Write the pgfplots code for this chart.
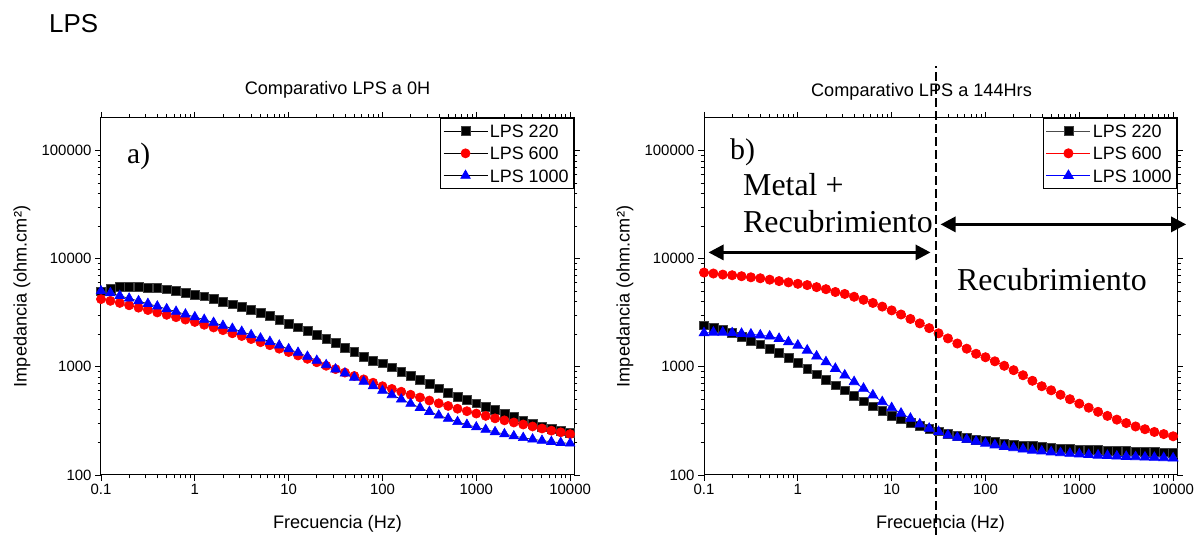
\documentclass[border=0pt]{standalone}
\usepackage{fontspec}
\setmainfont{Liberation Sans}
\newfontfamily\serifann{Liberation Serif}
\usepackage{pgfplots}
\pgfplotsset{compat=1.18}
\usepackage{pgfplotstable}
\usetikzlibrary{arrows.meta}

% |Z| vs frequency, 0 h
\pgfplotstableread{
f s220 s600 s1000
0.1 5010 4227 5023
0.1259 5285 4074 4820
0.1585 5470 3899 4550
0.1995 5470 3707 4295
0.2512 5470 3524 4064
0.3162 5395 3350 3837
0.3981 5360 3184 3631
0.5012 5210 3027 3428
0.631 5025 2877 3243
0.7943 4850 2735 3062
1 4680 2600 2891
1.259 4490 2449 2735
1.585 4235 2312 2564
1.995 4010 2183 2404
2.512 3785 2042 2259
3.162 3570 1928 2118
3.981 3360 1807 1972
5.012 3150 1690 1837
6.31 2950 1585 1710
7.943 2710 1472 1581
10 2510 1371 1462
12.59 2320 1274 1355
15.85 2150 1186 1245
19.95 1990 1102 1143
25.12 1825 1023 1042
31.62 1665 953 951
39.81 1495 885 871
50.12 1370 824 798
63.1 1250 766 731
79.43 1145 713 665
100 1080 662 603
125.9 990 625 550
158.5 900 589 501
199.5 825 552 457
251.2 765 521 419
316.2 697 488 385
398.1 634 460 356
501.2 581 435 333
631 532 410 310
794.3 495 389 292
1000 460 370 277
1259 428 352 263
1585 398 334 250
1995 370 320 239
2512 344 306 229
3162 320 293 221
3981 298 281 214
5012 281 269 208
6310 269 257 203
7943 257 248 199
10000 247 239 196
}\lpsA

% |Z| vs frequency, 144 h
\pgfplotstableread{
f s220 s600 s1000
0.1 2421 7447 2056
0.1259 2307 7295 2084
0.1585 2208 7129 2084
0.1995 2056 7031 2056
0.2512 1888 6887 2028
0.3162 1734 6730 2000
0.3981 1618 6592 1959
0.5012 1476 6397 1919
0.631 1346 6209 1824
0.7943 1219 6039 1698
1 1096 5861 1581
1.259 964 5702 1422
1.585 855 5458 1253
1.995 764 5224 1109
2.512 676 4920 964
3.162 608 4721 836
3.981 536 4446 726
5.012 481 4169 631
6.31 433 3899 547
7.943 394 3606 474
10 355 3327 417
12.59 328 3048 371
15.85 303 2773 333
19.95 283 2523 295
25.12 267 2280 269
31.62 254 2042 251
39.81 239 1832 233
50.12 229 1644 222
63.1 221 1472 213
79.43 213 1321 204
100 207 1227 196
125.9 202 1125 189
158.5 197 1023 183
199.5 192 931 178
251.2 188 836 173
316.2 185 743 169
398.1 182 662 166
501.2 179.5 607 163
631 177 552 160
794.3 175 502 158
1000 173 457 156
1259 172 419 154
1585 170 384 152
1995 169 352 151
2512 168 325 149
3162 167 302 148
3981 166 281 147
5012 164 265 146
6310 163 250 145
7943 162 239 144
10000 161 228 143
}\lpsB

\pgfplotsset{
  every axis/.append style={
    scale only axis, height=357bp, width=473bp,
    xmin=0.1, xmax=11000, ymin=100, ymax=2e5,
    xtick={0.1,1,10,100,1000,10000},
    xticklabels={0.1,1,10,100,1000,10000},
    minor xtick={0.2,0.3,0.4,0.5,0.6,0.7,0.8,0.9,2,3,4,5,6,7,8,9,20,30,40,50,60,70,80,90,200,300,400,500,600,700,800,900,2000,3000,4000,5000,6000,7000,8000,9000},
    ytick={100,1000,10000,100000},
    yticklabels={100,1000,10000,100000},
    minor ytick={200,300,400,500,600,700,800,900,2000,3000,4000,5000,6000,7000,8000,9000,20000,30000,40000,50000,60000,70000,80000,90000},
    tick align=outside, tick pos=both,
    major tick length=6bp, minor tick length=3.5bp,
    axis line style={line width=1bp},
    tick style={black, line width=0.8bp},
    ticklabel style={font=\fontsize{15}{18}\selectfont},
    xlabel={Frecuencia (Hz)},
    ylabel={Impedancia (ohm.cm²)},
    label style={font=\fontsize{18.2}{21}\selectfont},
    xlabel style={at={(axis description cs:0.5,-0.1485)}, anchor=base},
    ylabel style={at={(axis description cs:-0.167,0.5)}, anchor=center},
    title style={at={(axis description cs:0.5,1)}, anchor=base, yshift=18bp,
                 font=\fontsize{18.2}{21}\selectfont},
    legend cell align=left,
    legend style={at={(1,1)}, anchor=north east, draw=black, line width=0.8bp,
      fill=white, font=\fontsize{18}{21}\selectfont,
      inner xsep=3bp, inner ysep=1.5bp,
      nodes={font=\fontsize{18}{21}\selectfont, inner ysep=4.7bp, inner xsep=2bp,
             text height=12.9bp, text depth=0bp}},
  },
  legend image code/.code={%
    \draw[mark repeat=2,mark phase=2,#1] plot coordinates {(0bp,0bp) (22bp,0bp) (44bp,0bp)};},
}

\begin{document}
\begin{tikzpicture}
\path[use as bounding box] (0,0) rectangle (1198bp,535bp);

\node[anchor=base west, inner sep=0, font=\fontsize{26}{30}\selectfont] at (49bp,502bp) {LPS};

% panel a
\begin{loglogaxis}[at={(101bp,60bp)}, anchor=south west,
  title={Comparativo LPS a 0H}]
  \addplot[black, line width=0.6bp, mark=square*, mark size=4.4bp,
    mark options={fill=black, draw=black!75, line width=0.5bp}] table[x=f, y=s220] {\lpsA};
  \addplot[black, line width=0.6bp, mark=*, mark size=4.6bp,
    mark options={fill=red, draw=red}] table[x=f, y=s600] {\lpsA};
  \addplot[black, line width=0.6bp, mark=triangle*, mark size=5.6bp,
    mark options={fill=blue, draw=blue}] table[x=f, y=s1000] {\lpsA};
  \legend{LPS 220, LPS 600, LPS 1000}
\end{loglogaxis}

% panel b
\begin{loglogaxis}[at={(704bp,60bp)}, anchor=south west,
  title={Comparativo LPS a 144Hrs},
  title style={xshift=-19bp, yshift=-2.6bp},
  after end axis/.code={
    \draw[black, line width=2bp, dash pattern=on 9bp off 4bp]
      (axis cs:30,27.5) -- (axis cs:30,6.1e5);
    \draw[{Triangle[length=15bp,width=15bp]}-{Triangle[length=15bp,width=15bp]}, line width=3bp]
      (axis cs:0.1117,11430) -- (axis cs:25.97,11430);
    \draw[{Triangle[length=15bp,width=15bp]}-{Triangle[length=15bp,width=15bp]}, line width=3bp]
      (axis cs:33.2,20760) -- (axis cs:13770,20760);
  }]
  \addplot[black!70, line width=0.8bp, mark=square*, mark size=4.4bp,
    mark options={fill=black, draw=black!75, line width=0.5bp}] table[x=f, y=s220] {\lpsB};
  \addplot[red, line width=0.8bp, mark=*, mark size=4.6bp,
    mark options={fill=red, draw=red}] table[x=f, y=s600] {\lpsB};
  \addplot[blue, line width=0.8bp, mark=triangle*, mark size=5.6bp,
    mark options={fill=blue, draw=blue}] table[x=f, y=s1000] {\lpsB};
  \legend{LPS 220, LPS 600, LPS 1000}
\end{loglogaxis}

% panel tags and region labels
\node[anchor=base west, inner sep=0, font=\serifann\fontsize{29.6}{34}\selectfont] at (127bp,371bp) {a)};
\node[anchor=base west, inner sep=0, font=\serifann\fontsize{30}{34}\selectfont] at (730bp,375bp) {b)};
\node[anchor=base west, inner sep=0, font=\serifann\fontsize{32}{36}\selectfont] at (743bp,339bp) {Metal +};
\node[anchor=base west, inner sep=0, font=\serifann\fontsize{32}{36}\selectfont] at (743bp,302bp) {Recubrimiento};
\node[anchor=base west, inner sep=0, font=\serifann\fontsize{32}{36}\selectfont] at (957bp,244bp) {Recubrimiento};
\end{tikzpicture}
\end{document}
